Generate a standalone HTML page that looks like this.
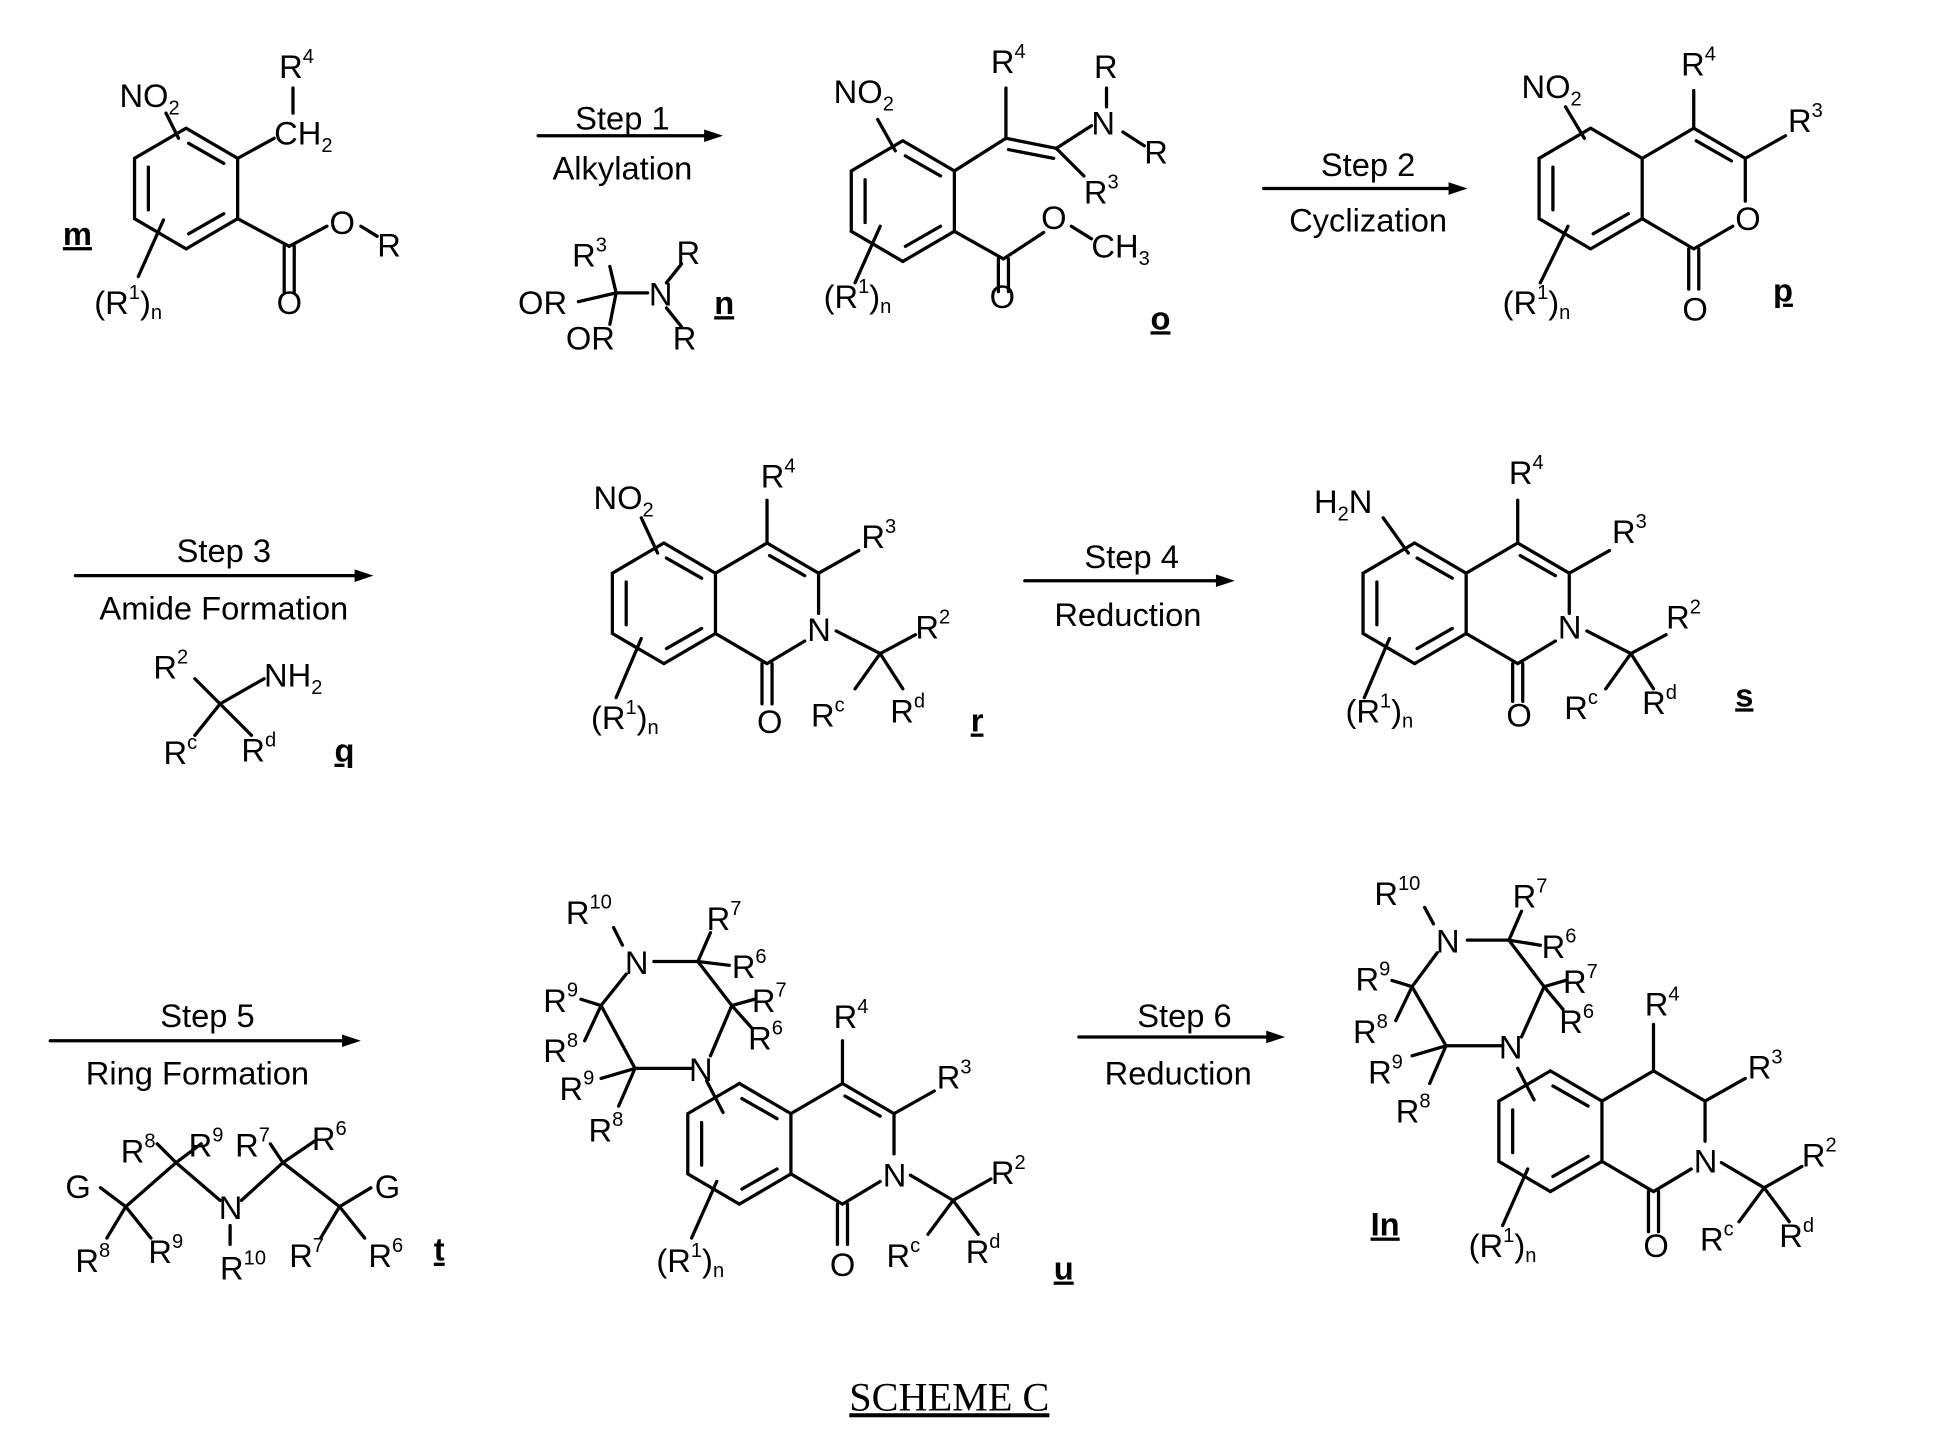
<!DOCTYPE html>
<html><head><meta charset="utf-8"><style>
html,body{margin:0;padding:0;background:#fff}
svg{display:block}
text{font-family:"Liberation Sans",Arial,sans-serif;font-size:26px;fill:#000}
.s{font-size:16px}
</style></head><body>
<svg width="1949" height="1453" viewBox="0 0 1550 1156" preserveAspectRatio="none" xmlns="http://www.w3.org/2000/svg">
<g stroke="#000" stroke-width="2.6" fill="none" stroke-linecap="round">
<!-- m -->
<polygon points="148,102 189,126 189,174 148,198 107,174 107,126"/>
<line x1="118" y1="133" x2="118" y2="167"/><line x1="150" y1="114" x2="178" y2="130"/><line x1="150" y1="186" x2="178" y2="170"/>
<line x1="189" y1="126" x2="218" y2="110"/><line x1="233" y1="90" x2="233" y2="70"/>
<line x1="189" y1="174" x2="230" y2="196"/><line x1="226" y1="196" x2="226" y2="232"/><line x1="234" y1="196" x2="234" y2="232"/>
<line x1="230" y1="196" x2="260" y2="180"/><line x1="287" y1="180" x2="300" y2="188"/>
<line x1="142" y1="110" x2="132" y2="90"/><line x1="130" y1="175" x2="110" y2="220"/>
<!-- arrow1 -->
<line x1="428" y1="108" x2="565" y2="108"/>
<!-- n -->
<line x1="490" y1="233" x2="485" y2="212"/><line x1="490" y1="233" x2="460" y2="240"/><line x1="490" y1="233" x2="485" y2="258"/><line x1="490" y1="233" x2="515" y2="233"/>
<line x1="530" y1="225" x2="542" y2="210"/><line x1="530" y1="245" x2="542" y2="260"/>
<!-- o -->
<polygon points="718,112 759,136 759,184 718,208 677,184 677,136"/>
<line x1="688" y1="143" x2="688" y2="177"/><line x1="720" y1="124" x2="748" y2="140"/><line x1="720" y1="196" x2="748" y2="180"/>
<line x1="759" y1="136" x2="800" y2="110"/><line x1="800" y1="110" x2="800" y2="70"/>
<line x1="800" y1="110" x2="840" y2="118"/><line x1="802" y1="119" x2="838" y2="126"/>
<line x1="840" y1="118" x2="868" y2="100"/><line x1="840" y1="118" x2="862" y2="140"/>
<line x1="880" y1="85" x2="880" y2="70"/><line x1="893" y1="105" x2="910" y2="116"/>
<line x1="759" y1="184" x2="798" y2="206"/><line x1="794" y1="206" x2="794" y2="232"/><line x1="802" y1="206" x2="802" y2="232"/>
<line x1="798" y1="206" x2="830" y2="185"/><line x1="852" y1="180" x2="868" y2="190"/>
<line x1="712" y1="120" x2="698" y2="95"/><line x1="700" y1="180" x2="680" y2="225"/>
<!-- arrow2 -->
<line x1="1005" y1="150" x2="1155" y2="150"/>
<!-- p -->
<polygon points="1265,102 1306,126 1306,174 1265,198 1224,174 1224,126"/>
<line x1="1235" y1="133" x2="1235" y2="167"/><line x1="1267" y1="186" x2="1295" y2="170"/>
<polyline points="1306,126 1347,102 1388,126 1388,160"/><polyline points="1306,174 1347,198 1378,180"/>
<line x1="1349" y1="112" x2="1377" y2="128"/>
<line x1="1347" y1="102" x2="1347" y2="72"/><line x1="1388" y1="126" x2="1420" y2="108"/>
<line x1="1343" y1="198" x2="1343" y2="230"/><line x1="1351" y1="198" x2="1351" y2="230"/>
<line x1="1260" y1="110" x2="1245" y2="85"/><line x1="1247" y1="180" x2="1225" y2="225"/>
<!-- arrow3 -->
<line x1="60" y1="458" x2="285" y2="458"/>
<!-- q -->
<line x1="175" y1="560" x2="155" y2="540"/><line x1="175" y1="560" x2="210" y2="540"/><line x1="175" y1="560" x2="155" y2="585"/><line x1="175" y1="560" x2="200" y2="585"/>
<!-- r -->
<polygon points="528,432 569,456 569,504 528,528 487,504 487,456"/>
<line x1="498" y1="463" x2="498" y2="497"/><line x1="530" y1="444" x2="558" y2="460"/><line x1="530" y1="516" x2="558" y2="500"/>
<polyline points="569,456 610,432 651,456 651,488"/><polyline points="569,504 610,528 640,510"/>
<line x1="612" y1="442" x2="640" y2="458"/>
<line x1="610" y1="432" x2="610" y2="398"/><line x1="651" y1="456" x2="683" y2="438"/>
<line x1="606" y1="528" x2="606" y2="560"/><line x1="614" y1="528" x2="614" y2="560"/>
<line x1="665" y1="502" x2="700" y2="520"/><line x1="700" y1="520" x2="728" y2="505"/><line x1="700" y1="520" x2="680" y2="548"/><line x1="700" y1="520" x2="718" y2="548"/>
<line x1="523" y1="440" x2="510" y2="412"/><line x1="510" y1="508" x2="490" y2="555"/>
<!-- arrow4 -->
<line x1="815" y1="462" x2="970" y2="462"/>
<!-- s -->
<polygon points="1125,432 1166,456 1166,504 1125,528 1084,504 1084,456"/>
<line x1="1095" y1="463" x2="1095" y2="497"/><line x1="1127" y1="444" x2="1155" y2="460"/><line x1="1127" y1="516" x2="1155" y2="500"/>
<polyline points="1166,456 1207,432 1248,456 1248,488"/><polyline points="1166,504 1207,528 1237,510"/>
<line x1="1209" y1="442" x2="1237" y2="458"/>
<line x1="1207" y1="432" x2="1207" y2="398"/><line x1="1248" y1="456" x2="1280" y2="438"/>
<line x1="1203" y1="528" x2="1203" y2="558"/><line x1="1211" y1="528" x2="1211" y2="558"/>
<line x1="1262" y1="502" x2="1297" y2="520"/><line x1="1297" y1="520" x2="1325" y2="505"/><line x1="1297" y1="520" x2="1277" y2="548"/><line x1="1297" y1="520" x2="1315" y2="548"/>
<line x1="1120" y1="440" x2="1100" y2="412"/><line x1="1105" y1="508" x2="1085" y2="555"/>
<!-- arrow5 -->
<line x1="40" y1="828" x2="275" y2="828"/>
<!-- t -->
<polyline points="80,945 100,960 140,925 175,955"/><polyline points="192,955 225,925 270,960 295,945"/>
<line x1="100" y1="960" x2="85" y2="985"/><line x1="100" y1="960" x2="120" y2="985"/><line x1="140" y1="925" x2="125" y2="910"/><line x1="140" y1="925" x2="160" y2="910"/>
<line x1="225" y1="925" x2="215" y2="910"/><line x1="225" y1="925" x2="250" y2="908"/><line x1="270" y1="960" x2="255" y2="985"/><line x1="270" y1="960" x2="290" y2="985"/>
<line x1="183" y1="975" x2="183" y2="990"/>
<!-- u -->
<line x1="520" y1="765" x2="555" y2="765"/><line x1="555" y1="765" x2="582" y2="800"/><line x1="582" y1="800" x2="565" y2="840"/>
<line x1="550" y1="850" x2="505" y2="850"/><line x1="505" y1="850" x2="478" y2="800"/><line x1="478" y1="800" x2="498" y2="775"/>
<line x1="495" y1="752" x2="488" y2="738"/><line x1="555" y1="765" x2="565" y2="742"/><line x1="555" y1="765" x2="580" y2="768"/><line x1="582" y1="800" x2="600" y2="795"/><line x1="582" y1="800" x2="598" y2="818"/>
<line x1="478" y1="800" x2="462" y2="795"/><line x1="478" y1="800" x2="465" y2="828"/><line x1="505" y1="850" x2="478" y2="858"/><line x1="505" y1="850" x2="492" y2="880"/>
<polygon points="588,862 629,886 629,934 588,958 547,934 547,886"/>
<line x1="558" y1="893" x2="558" y2="927"/><line x1="590" y1="874" x2="618" y2="890"/><line x1="590" y1="946" x2="618" y2="930"/>
<polyline points="629,886 670,862 711,886 711,918"/><polyline points="629,934 670,958 700,940"/>
<line x1="672" y1="872" x2="700" y2="888"/>
<line x1="670" y1="862" x2="670" y2="828"/><line x1="711" y1="886" x2="743" y2="868"/>
<line x1="666" y1="958" x2="666" y2="990"/><line x1="674" y1="958" x2="674" y2="990"/>
<line x1="724" y1="935" x2="758" y2="955"/><line x1="758" y1="955" x2="788" y2="938"/><line x1="758" y1="955" x2="738" y2="982"/><line x1="758" y1="955" x2="778" y2="982"/>
<line x1="562" y1="860" x2="575" y2="885"/><line x1="570" y1="940" x2="550" y2="985"/>
<!-- arrow6 -->
<line x1="858" y1="825" x2="1010" y2="825"/>
<!-- In -->
<line x1="1167" y1="748" x2="1200" y2="748"/><line x1="1200" y1="748" x2="1228" y2="785"/><line x1="1228" y1="785" x2="1210" y2="825"/>
<line x1="1195" y1="832" x2="1150" y2="832"/><line x1="1150" y1="832" x2="1123" y2="785"/><line x1="1123" y1="785" x2="1143" y2="758"/>
<line x1="1140" y1="735" x2="1133" y2="722"/><line x1="1200" y1="748" x2="1210" y2="725"/><line x1="1200" y1="748" x2="1225" y2="752"/><line x1="1228" y1="785" x2="1245" y2="780"/><line x1="1228" y1="785" x2="1243" y2="803"/>
<line x1="1123" y1="785" x2="1107" y2="780"/><line x1="1123" y1="785" x2="1110" y2="812"/><line x1="1150" y1="832" x2="1123" y2="840"/><line x1="1150" y1="832" x2="1137" y2="862"/>
<polygon points="1233,852 1274,876 1274,924 1233,948 1192,924 1192,876"/>
<line x1="1203" y1="883" x2="1203" y2="917"/><line x1="1235" y1="864" x2="1263" y2="880"/><line x1="1235" y1="936" x2="1263" y2="920"/>
<polyline points="1274,876 1315,852 1356,876 1356,908"/><polyline points="1274,924 1315,948 1345,930"/>
<line x1="1315" y1="852" x2="1315" y2="815"/><line x1="1356" y1="876" x2="1388" y2="858"/>
<line x1="1311" y1="948" x2="1311" y2="980"/><line x1="1319" y1="948" x2="1319" y2="980"/>
<line x1="1369" y1="925" x2="1403" y2="945"/><line x1="1403" y1="945" x2="1433" y2="928"/><line x1="1403" y1="945" x2="1383" y2="972"/><line x1="1403" y1="945" x2="1423" y2="972"/>
<line x1="1207" y1="850" x2="1220" y2="875"/><line x1="1215" y1="930" x2="1195" y2="975"/>
</g>
<g fill="#000">
<polygon points="575,108 560,103 560,113"/><polygon points="1167,150 1152,145 1152,155"/><polygon points="297,458 282,453 282,463"/>
<polygon points="982,462 967,457 967,467"/><polygon points="287,828 272,823 272,833"/><polygon points="1022,825 1007,820 1007,830"/>
</g>
<!-- labels -->
<text x="95" y="85">NO<tspan class="s" dy="6">2</tspan></text>
<text x="222" y="62">R<tspan class="s" dy="-12">4</tspan></text>
<text x="218" y="115">CH<tspan class="s" dy="6">2</tspan></text>
<text x="262" y="186">O</text><text x="300" y="204">R</text><text x="220" y="250">O</text>
<text x="75" y="250">(R<tspan class="s" dy="-12">1</tspan><tspan dy="12">)</tspan><tspan class="s" dy="4">n</tspan></text>
<text x="50" y="195" font-weight="bold" text-decoration="underline">m</text>
<text x="495" y="103" text-anchor="middle">Step 1</text><text x="495" y="143" text-anchor="middle">Alkylation</text>
<text x="455" y="212">R<tspan class="s" dy="-12">3</tspan></text><text x="538" y="210">R</text>
<text x="412" y="250">OR</text><text x="450" y="278">OR</text><text x="516" y="243">N</text><text x="535" y="278">R</text>
<text x="568" y="250" font-weight="bold" text-decoration="underline">n</text>
<text x="663" y="82">NO<tspan class="s" dy="6">2</tspan></text>
<text x="788" y="58">R<tspan class="s" dy="-12">4</tspan></text>
<text x="870" y="62">R</text><text x="868" y="107">N</text><text x="910" y="130">R</text>
<text x="862" y="162">R<tspan class="s" dy="-12">3</tspan></text>
<text x="828" y="182">O</text><text x="868" y="205">CH<tspan class="s" dy="6">3</tspan></text><text x="787" y="245">O</text>
<text x="655" y="245">(R<tspan class="s" dy="-12">1</tspan><tspan dy="12">)</tspan><tspan class="s" dy="4">n</tspan></text>
<text x="915" y="262" font-weight="bold" text-decoration="underline">o</text>
<text x="1088" y="140" text-anchor="middle">Step 2</text><text x="1088" y="184" text-anchor="middle">Cyclization</text>
<text x="1210" y="78">NO<tspan class="s" dy="6">2</tspan></text>
<text x="1337" y="60">R<tspan class="s" dy="-12">4</tspan></text><text x="1422" y="105">R<tspan class="s" dy="-12">3</tspan></text>
<text x="1380" y="183">O</text><text x="1338" y="255">O</text>
<text x="1195" y="250">(R<tspan class="s" dy="-12">1</tspan><tspan dy="12">)</tspan><tspan class="s" dy="4">n</tspan></text>
<text x="1410" y="240" font-weight="bold" text-decoration="underline">p</text>
<text x="178" y="447" text-anchor="middle">Step 3</text><text x="178" y="493" text-anchor="middle">Amide Formation</text>
<text x="122" y="540">R<tspan class="s" dy="-12">2</tspan></text><text x="210" y="546">NH<tspan class="s" dy="6">2</tspan></text>
<text x="130" y="608">R<tspan class="s" dy="-12">c</tspan></text><text x="192" y="606">R<tspan class="s" dy="-12">d</tspan></text>
<text x="266" y="606" font-weight="bold" text-decoration="underline">q</text>
<text x="472" y="405">NO<tspan class="s" dy="6">2</tspan></text>
<text x="605" y="388">R<tspan class="s" dy="-12">4</tspan></text><text x="685" y="436">R<tspan class="s" dy="-12">3</tspan></text>
<text x="642" y="510">N</text><text x="728" y="508">R<tspan class="s" dy="-12">2</tspan></text>
<text x="602" y="583">O</text><text x="645" y="578">R<tspan class="s" dy="-12">c</tspan></text><text x="708" y="575">R<tspan class="s" dy="-12">d</tspan></text>
<text x="470" y="580">(R<tspan class="s" dy="-12">1</tspan><tspan dy="12">)</tspan><tspan class="s" dy="4">n</tspan></text>
<text x="772" y="582" font-weight="bold" text-decoration="underline">r</text>
<text x="900" y="452" text-anchor="middle">Step 4</text><text x="897" y="498" text-anchor="middle">Reduction</text>
<text x="1045" y="408">H<tspan class="s" dy="6">2</tspan><tspan dy="-6">N</tspan></text>
<text x="1200" y="385">R<tspan class="s" dy="-12">4</tspan></text><text x="1282" y="432">R<tspan class="s" dy="-12">3</tspan></text>
<text x="1239" y="508">N</text><text x="1325" y="500">R<tspan class="s" dy="-12">2</tspan></text>
<text x="1198" y="578">O</text><text x="1244" y="572">R<tspan class="s" dy="-12">c</tspan></text><text x="1306" y="568">R<tspan class="s" dy="-12">d</tspan></text>
<text x="1070" y="575">(R<tspan class="s" dy="-12">1</tspan><tspan dy="12">)</tspan><tspan class="s" dy="4">n</tspan></text>
<text x="1380" y="562" font-weight="bold" text-decoration="underline">s</text>
<text x="165" y="817" text-anchor="middle">Step 5</text><text x="157" y="863" text-anchor="middle">Ring Formation</text>
<text x="52" y="953">G</text><text x="298" y="953">G</text><text x="174" y="970">N</text>
<text x="96" y="925">R<tspan class="s" dy="-12">8</tspan></text><text x="150" y="920">R<tspan class="s" dy="-12">9</tspan></text>
<text x="187" y="920">R<tspan class="s" dy="-12">7</tspan></text><text x="248" y="915">R<tspan class="s" dy="-12">6</tspan></text>
<text x="60" y="1012">R<tspan class="s" dy="-12">8</tspan></text><text x="118" y="1005">R<tspan class="s" dy="-12">9</tspan></text>
<text x="175" y="1018">R<tspan class="s" dy="-12">10</tspan></text><text x="230" y="1008">R<tspan class="s" dy="-12">7</tspan></text>
<text x="293" y="1008">R<tspan class="s" dy="-12">6</tspan></text><text x="345" y="1003" font-weight="bold" text-decoration="underline">t</text>
<text x="450" y="735">R<tspan class="s" dy="-12">10</tspan></text><text x="497" y="775">N</text>
<text x="562" y="740">R<tspan class="s" dy="-12">7</tspan></text><text x="582" y="778">R<tspan class="s" dy="-12">6</tspan></text>
<text x="598" y="805">R<tspan class="s" dy="-12">7</tspan></text><text x="595" y="835">R<tspan class="s" dy="-12">6</tspan></text>
<text x="432" y="805">R<tspan class="s" dy="-12">9</tspan></text><text x="432" y="845">R<tspan class="s" dy="-12">8</tspan></text>
<text x="445" y="875">R<tspan class="s" dy="-12">9</tspan></text><text x="468" y="908">R<tspan class="s" dy="-12">8</tspan></text>
<text x="548" y="860">N</text>
<text x="663" y="818">R<tspan class="s" dy="-12">4</tspan></text><text x="745" y="866">R<tspan class="s" dy="-12">3</tspan></text>
<text x="702" y="944">N</text><text x="788" y="942">R<tspan class="s" dy="-12">2</tspan></text>
<text x="660" y="1015">O</text><text x="705" y="1008">R<tspan class="s" dy="-12">c</tspan></text><text x="768" y="1005">R<tspan class="s" dy="-12">d</tspan></text>
<text x="522" y="1012">(R<tspan class="s" dy="-12">1</tspan><tspan dy="12">)</tspan><tspan class="s" dy="4">n</tspan></text>
<text x="838" y="1018" font-weight="bold" text-decoration="underline">u</text>
<text x="942" y="817" text-anchor="middle">Step 6</text><text x="937" y="863" text-anchor="middle">Reduction</text>
<text x="1093" y="720">R<tspan class="s" dy="-12">10</tspan></text><text x="1142" y="758">N</text>
<text x="1203" y="722">R<tspan class="s" dy="-12">7</tspan></text><text x="1226" y="762">R<tspan class="s" dy="-12">6</tspan></text>
<text x="1243" y="790">R<tspan class="s" dy="-12">7</tspan></text><text x="1240" y="822">R<tspan class="s" dy="-12">6</tspan></text>
<text x="1078" y="788">R<tspan class="s" dy="-12">9</tspan></text><text x="1076" y="830">R<tspan class="s" dy="-12">8</tspan></text>
<text x="1088" y="862">R<tspan class="s" dy="-12">9</tspan></text><text x="1110" y="893">R<tspan class="s" dy="-12">8</tspan></text>
<text x="1192" y="842">N</text>
<text x="1308" y="808">R<tspan class="s" dy="-12">4</tspan></text><text x="1390" y="858">R<tspan class="s" dy="-12">3</tspan></text>
<text x="1347" y="933">N</text><text x="1433" y="928">R<tspan class="s" dy="-12">2</tspan></text>
<text x="1307" y="1000">O</text><text x="1352" y="995">R<tspan class="s" dy="-12">c</tspan></text><text x="1415" y="992">R<tspan class="s" dy="-12">d</tspan></text>
<text x="1168" y="1000">(R<tspan class="s" dy="-12">1</tspan><tspan dy="12">)</tspan><tspan class="s" dy="4">n</tspan></text>
<text x="1090" y="983" font-weight="bold" text-decoration="underline">In</text>
<text x="755" y="1122" text-anchor="middle" style="font-family:'Liberation Serif',serif;font-size:32px" text-decoration="underline">SCHEME C</text>
</svg>
</body></html>
